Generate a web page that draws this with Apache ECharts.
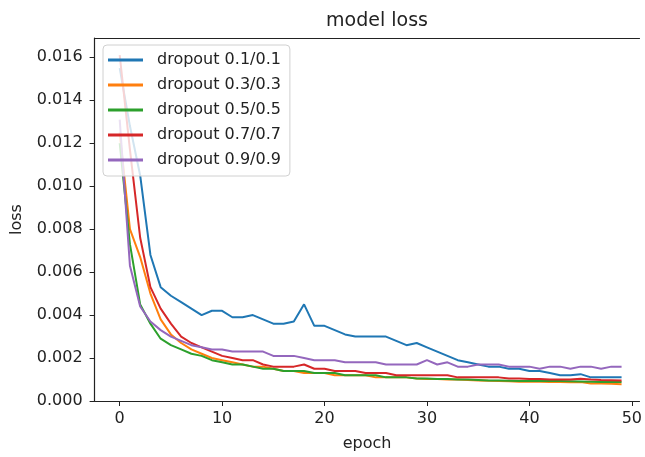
<!DOCTYPE html>
<html>
<head>
<meta charset="utf-8">
<script src="https://cdn.jsdelivr.net/npm/echarts@6/dist/echarts.min.js"></script>
<style>html,body{margin:0;padding:0;background:#fff}#c{width:645px;height:457px}</style>
</head>
<body>
<div id="c"></div>
<script>
const epochs = Array.from({length: 50}, (_, i) => i);
const seriesNames = ['dropout 0.1/0.1', 'dropout 0.3/0.3', 'dropout 0.5/0.5', 'dropout 0.7/0.7', 'dropout 0.9/0.9'];
const loss01 = [0.0155,0.0128,0.0105,0.0068,0.0053,0.0049,0.0046,0.0043,0.0040,0.0042,
  0.0042,0.0039,0.0039,0.0040,0.0038,0.0036,0.0036,0.0037,0.0045,0.0035,
  0.0035,0.0033,0.0031,0.0030,0.0030,0.0030,0.0030,0.0028,0.0026,0.0027,
  0.0025,0.0023,0.0021,0.0019,0.0018,0.0017,0.0016,0.0016,0.0015,0.0015,
  0.0014,0.0014,0.0013,0.0012,0.0012,0.00125,0.0011,0.0011,0.0011,0.0011];
const loss03 = [0.0125,0.0080,0.0067,0.0050,0.0038,0.0031,0.0027,0.0024,0.0022,0.0020,
  0.0019,0.0018,0.0017,0.0016,0.0016,0.0015,0.0014,0.0014,0.0013,0.0013,
  0.0013,0.0012,0.0012,0.0012,0.0012,0.0011,0.0011,0.0011,0.0011,0.00105,
  0.00103,0.00102,0.0010,0.0010,0.00098,0.00096,0.00094,0.00093,0.00092,0.0009,
  0.0009,0.0009,0.00088,0.00088,0.00087,0.00088,0.00082,0.00082,0.0008,0.00078];
const loss05 = [0.0120,0.0073,0.0045,0.0036,0.0029,0.0026,0.0024,0.0022,0.0021,0.0019,
  0.0018,0.0017,0.0017,0.0016,0.0015,0.0015,0.0014,0.0014,0.0014,0.0013,
  0.0013,0.0013,0.0012,0.0012,0.0012,0.0012,0.0011,0.0011,0.0011,0.00105,
  0.00105,0.00103,0.00102,0.0010,0.0010,0.00098,0.00096,0.00095,0.00094,0.00093,
  0.00093,0.00093,0.00093,0.00093,0.00092,0.00091,0.0009,0.00089,0.00088,0.00088];
const loss07 = [0.0161,0.0117,0.0076,0.0053,0.0043,0.0036,0.0030,0.0027,0.0025,0.0023,
  0.0021,0.0020,0.0019,0.0019,0.0017,0.0016,0.0016,0.0016,0.0017,0.0015,
  0.0015,0.0014,0.0014,0.0014,0.0013,0.0013,0.0013,0.0012,0.0012,0.0012,
  0.0012,0.0012,0.0012,0.0011,0.0011,0.0011,0.0011,0.0011,0.00105,0.00105,
  0.00103,0.00102,0.0010,0.0010,0.0010,0.00104,0.0010,0.00098,0.00097,0.00096];
const loss09 = [0.0131,0.0063,0.0044,0.0037,0.0033,0.0030,0.0028,0.0026,0.0025,0.0024,
  0.0024,0.0023,0.0023,0.0023,0.0023,0.0021,0.0021,0.0021,0.0020,0.0019,
  0.0019,0.0019,0.0018,0.0018,0.0018,0.0018,0.0017,0.0017,0.0017,0.0017,
  0.0019,0.0017,0.0018,0.0016,0.0016,0.0017,0.0017,0.0017,0.0016,0.0016,
  0.0016,0.0015,0.0016,0.0016,0.0015,0.0016,0.0016,0.0015,0.0016,0.0016];
const xTicks = [0, 10, 20, 30, 40, 50];
const yTicks = [0, 0.002, 0.004, 0.006, 0.008, 0.010, 0.012, 0.014, 0.016];
const colors = ['#1f77b4', '#ff7f0e', '#2ca02c', '#d62728', '#9467bd'];
const allLoss = [loss01, loss03, loss05, loss07, loss09];

const font = 'DejaVu Sans';
const chart = echarts.init(document.getElementById('c'), null, {renderer: 'canvas'});
const lineCol = '#222';
chart.setOption({
  animation: false,
  color: colors,
  title: {
    text: 'model loss', left: 372, top: 7, textAlign: 'center',
    textStyle: {fontFamily: font, fontSize: 19, fontWeight: 'normal', color: '#222'}
  },
  grid: {left: 94.6, right: 0, top: 38, bottom: 55.5, containLabel: false},
  legend: {
    orient: 'vertical', left: 103, top: 45, z: 20,
    padding: [5, 9, 6, 5], itemGap: 5, itemWidth: 35, itemHeight: 3, icon: 'rect',
    backgroundColor: 'rgba(255,255,255,0.8)', borderColor: '#d0d0d0', borderWidth: 1, borderRadius: 4,
    formatter: name => '{a|' + name + '}',
    textStyle: {fontFamily: font, fontSize: 16, color: '#222', lineHeight: 20,
      rich: {a: {fontFamily: font, fontSize: 16, color: '#222', lineHeight: 20, padding: [0, 0, 0, 9]}}},
    data: seriesNames
  },
  xAxis: [{
    type: 'value', min: -2.45, max: 50.75,
    name: 'epoch', nameLocation: 'middle', nameGap: 35,
    nameTextStyle: {fontFamily: font, fontSize: 16, color: '#222'},
    axisLine: {show: true, onZero: false, lineStyle: {color: lineCol, width: 1.2}},
    axisTick: {show: true, inside: false, length: 5, customValues: xTicks, lineStyle: {color: lineCol, width: 1}},
    splitLine: {show: false},
    axisLabel: {customValues: xTicks, fontFamily: font, fontSize: 16, color: '#222', margin: 10,
      formatter: v => String(v)}
  }, {
    type: 'value', min: -2.45, max: 50.75, position: 'top',
    axisLine: {show: true, onZero: false, lineStyle: {color: lineCol, width: 1.2}},
    axisTick: {show: false}, axisLabel: {show: false}, splitLine: {show: false}
  }],
  yAxis: {
    type: 'value', min: 0, max: 0.0169, position: 'left',
    name: 'loss', nameLocation: 'middle', nameGap: 70, nameRotate: 90,
    nameTextStyle: {fontFamily: font, fontSize: 16, color: '#222'},
    axisLine: {show: true, onZero: false, lineStyle: {color: lineCol, width: 1.2}},
    axisTick: {show: true, inside: false, length: 5, customValues: yTicks, lineStyle: {color: lineCol, width: 1}},
    splitLine: {show: false},
    axisLabel: {customValues: yTicks, fontFamily: font, fontSize: 16, color: '#222', margin: 12,
      formatter: v => v.toFixed(3)}
  },
  series: seriesNames.map((n, i) => ({
    name: n, type: 'line', xAxisIndex: 0, showSymbol: false, symbol: 'none',
    lineStyle: {width: 2, color: colors[i]}, itemStyle: {color: colors[i]},
    data: epochs.map((e, j) => [e, allLoss[i][j]]),
    z: 2
  }))
});
</script>
</body>
</html>
